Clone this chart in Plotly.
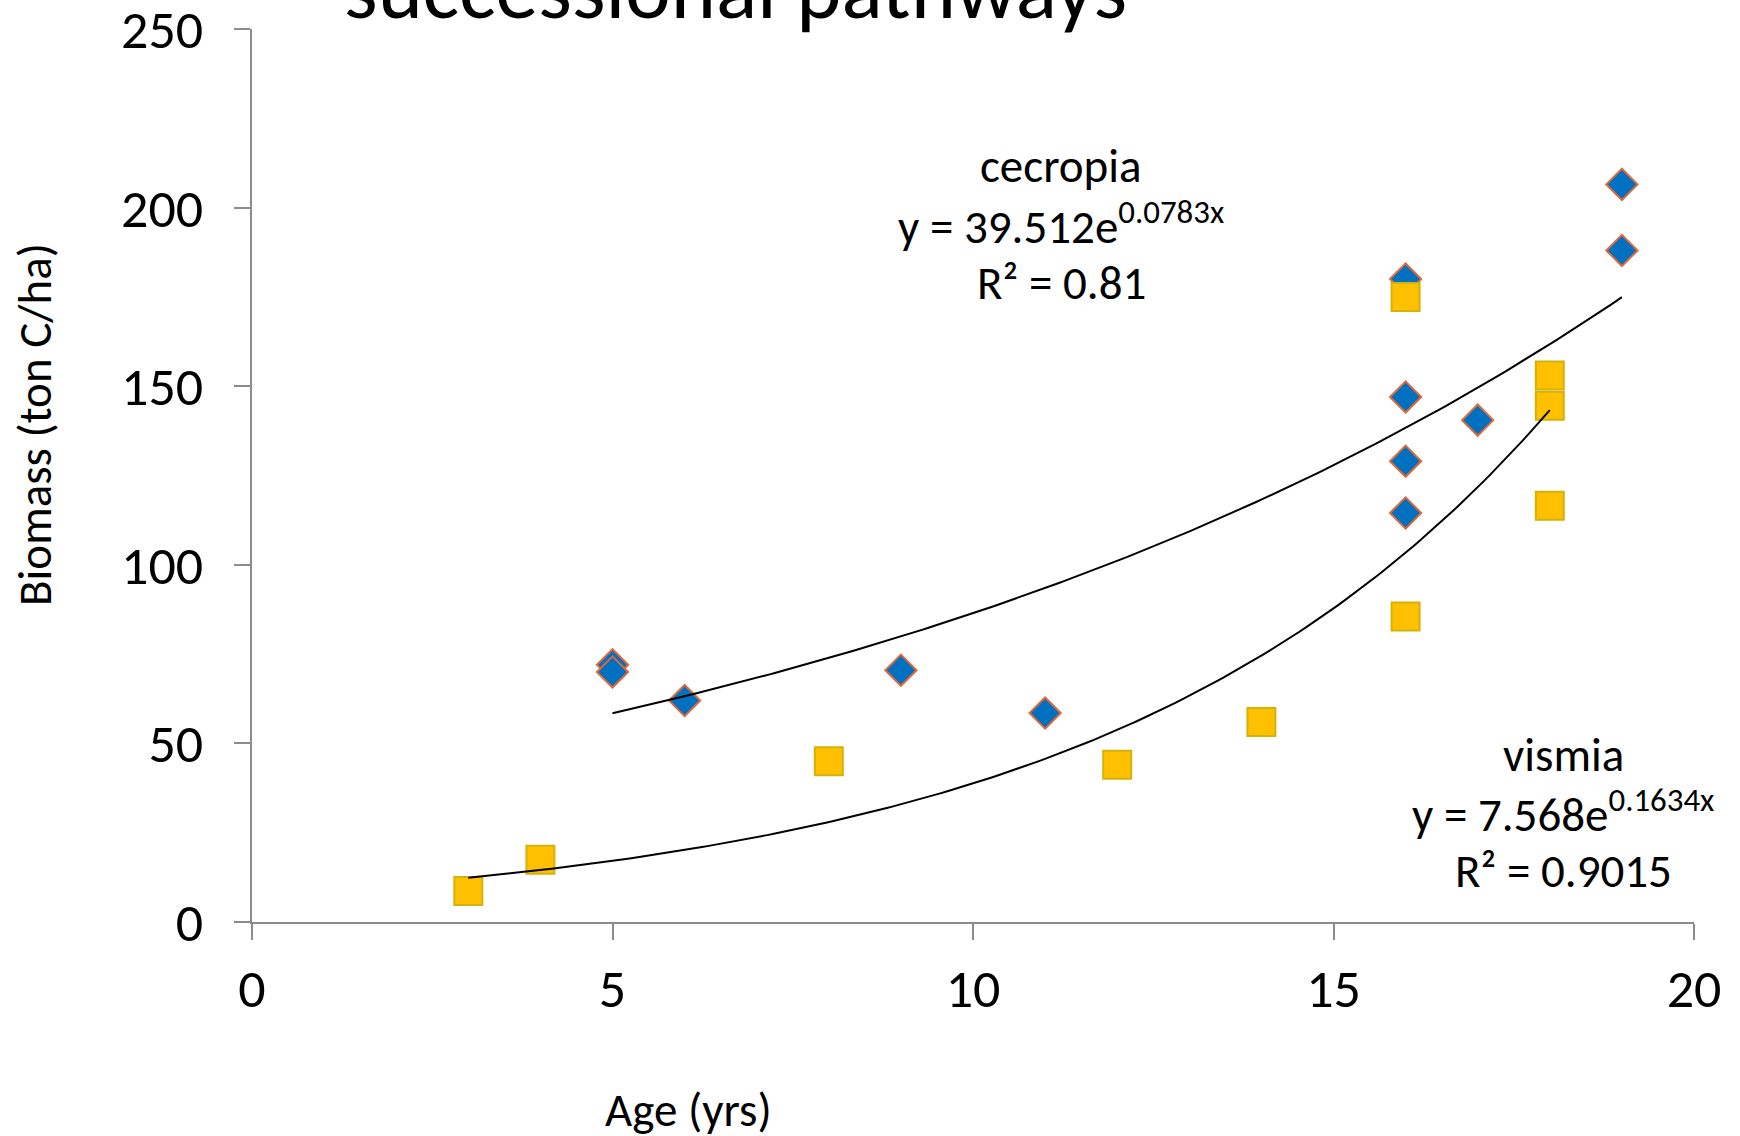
import numpy as np
import plotly.graph_objects as go

# Stand age (yrs) and biomass (ton C/ha) along the two successional pathways
cecropia_age = [5, 5, 6, 9, 11, 16, 16, 16, 16, 17, 19, 19]
cecropia_biomass = [72, 70, 62, 70.5, 58.5, 180, 147, 129, 114.5, 140.5, 206.5, 188]

vismia_age = [3, 4, 8, 12, 14, 16, 16, 18, 18, 18]
vismia_biomass = [8.7, 17.4, 45, 44, 56, 175, 85.5, 153, 144.5, 116.5]

# Exponential trendlines, y = a * exp(b * x)
cecropia_a, cecropia_b, cecropia_r2 = 39.512, 0.0783, "0.81"
vismia_a, vismia_b, vismia_r2 = 7.568, 0.1634, "0.9015"

x_ticks = [0, 5, 10, 15, 20]
y_ticks = [0, 50, 100, 150, 200, 250]

FONT = "Calibri, Carlito, Lato, sans-serif"

# Plot-area geometry in pixels
W, H = 1740, 1136
L, R, T, B = 252, 46, 29, 214
PW, PH = W - L - R, H - T - B


def px_x(px):
    return (px - L) / PW


def px_y(py):
    return (H - B - py) / PH


def trend(a, b, age):
    xs = np.linspace(min(age), max(age), 200)
    return xs, a * np.exp(b * xs)


fig = go.Figure()

fig.add_trace(go.Scatter(
    x=cecropia_age, y=cecropia_biomass, mode="markers", name="cecropia",
    marker=dict(symbol="diamond", size=24, color="#0070C0",
                line=dict(color="#E0673A", width=2)),
    hoverinfo="skip",
))
fig.add_trace(go.Scatter(
    x=vismia_age, y=vismia_biomass, mode="markers", name="vismia",
    marker=dict(symbol="square", size=28, color="#FFC000",
                line=dict(color="#D4B20A", width=2)),
    hoverinfo="skip",
))

cx, cy = trend(cecropia_a, cecropia_b, cecropia_age)
vx, vy = trend(vismia_a, vismia_b, vismia_age)
for xs, ys in ((cx, cy), (vx, vy)):
    fig.add_trace(go.Scatter(x=xs, y=ys, mode="lines",
                             line=dict(color="black", width=2),
                             hoverinfo="skip"))

annotations = []


def text(s, x, y, size, **kw):
    annotations.append(dict(text=s, x=x, y=y, xref="paper", yref="paper",
                            showarrow=False, font=dict(family=FONT, size=size, color="black"),
                            **kw))


# Equation blocks
for lbl, a, b, r2, cxp, rows in (
    ("cecropia", cecropia_a, cecropia_b, cecropia_r2, 1061, (166, 224, 283)),
    ("vismia", vismia_a, vismia_b, vismia_r2, 1563, (755, 812, 871)),
):
    text(lbl, px_x(cxp), px_y(rows[0]), 47, xanchor="center", yanchor="middle")
    text(f"y = {a}e<sup>{b}x</sup>", px_x(cxp), px_y(rows[1]), 47,
         xanchor="center", yanchor="middle")
    text(f"R² = {r2}", px_x(cxp), px_y(rows[2]), 47, xanchor="center", yanchor="middle")

# Axis titles
text("Age (yrs)", px_x(688), px_y(1110), 47, xanchor="center", yanchor="middle")
text("Biomass (ton C/ha)", px_x(35), px_y(425), 47, xanchor="center", yanchor="middle",
     textangle=-90)

# Heading, running off the top of the page
text("successional pathways", px_x(735), px_y(43), 86, xanchor="center", yanchor="bottom")

axis_common = dict(
    showgrid=False, zeroline=False, showline=True, linecolor="#8C8C8C", linewidth=2,
    ticks="outside", ticklen=16, tickwidth=1.5, tickcolor="#8C8C8C",
    tickfont=dict(family=FONT, size=54, color="black"),
    ticklabeloverflow="allow",
    automargin=False,
)

fig.update_layout(
    width=W, height=H, autosize=False,
    margin=dict(l=L, r=R, t=T, b=B, autoexpand=False),
    paper_bgcolor="white", plot_bgcolor="white",
    showlegend=False,
    annotations=annotations,
    xaxis=dict(range=[0, 20], tickvals=x_ticks, ticklabelstandoff=2, **axis_common),
    yaxis=dict(range=[0, 250], tickvals=y_ticks, ticklabelstandoff=20, **axis_common),
)

fig.write_html("out.html")
